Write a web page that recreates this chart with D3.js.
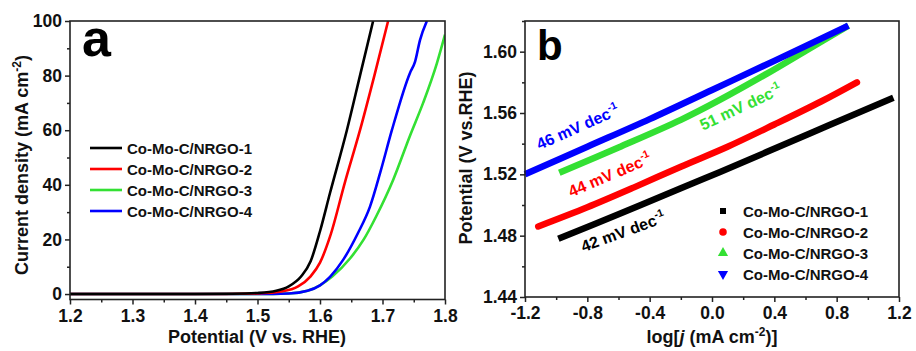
<!DOCTYPE html>
<html>
<head>
<meta charset="utf-8">
<script src="https://cdn.jsdelivr.net/npm/d3@7"></script>
<style>
  body { margin: 0; background: #fff; }
  svg text { font-family: "Liberation Sans", Arial, sans-serif; font-weight: bold; }
</style>
</head>
<body>
<svg id="chart" width="916" height="351"></svg>
<script>
var names = ["Co-Mo-C/NRGO-1", "Co-Mo-C/NRGO-2", "Co-Mo-C/NRGO-3", "Co-Mo-C/NRGO-4"];
var colors = ["#000000", "#ff0000", "#33e033", "#0000ff"];

// panel a: LSV curves [potential V, current density mA cm-2]
var lsv1 = [[1.20,0],[1.40,0],[1.46,0.1],[1.50,0.4],[1.53,1.2],[1.55,2.8],[1.57,6.5],[1.585,12],[1.60,23],[1.616,37],[1.643,60],[1.664,80],[1.685,100]];
var lsv2 = [[1.20,0],[1.45,0],[1.50,0.2],[1.54,1],[1.565,2.8],[1.585,6.5],[1.60,11.5],[1.616,21],[1.64,41],[1.664,60],[1.687,80],[1.709,100]];
var lsv3 = [[1.20,0],[1.50,0],[1.55,0.2],[1.58,1.2],[1.60,3.2],[1.62,6.5],[1.648,13],[1.67,20],[1.69,28.5],[1.717,41.8],[1.744,58],[1.765,70],[1.787,84.5],[1.80,95]];
var lsv4 = [[1.20,0],[1.50,0],[1.55,0.2],[1.58,1.2],[1.60,3.2],[1.616,6.3],[1.637,12.5],[1.66,22],[1.68,32],[1.697,45],[1.715,60],[1.744,81],[1.752,85],[1.76,93],[1.771,100]];

// panel b: Tafel plots [log j, potential V]
var tafel1 = [[-0.986,1.478],[-0.6,1.494],[-0.2,1.511],[0.052,1.5215],[0.35,1.5345],[0.75,1.552],[1.164,1.570]];
var tafel2 = [[-1.115,1.486],[-0.8,1.4985],[-0.5,1.5115],[-0.2,1.525],[0.1,1.538],[0.4,1.5525],[0.7,1.5675],[0.93,1.580]];
var tafel3 = [[-0.98,1.521],[-0.6,1.5375],[-0.2,1.5555],[0.05,1.5685],[0.35,1.5855],[0.6,1.6005],[0.875,1.617]];
var tafel4 = [[-1.2,1.520],[-0.8,1.538],[-0.4,1.556],[0.0,1.575],[0.4,1.594],[0.875,1.617]];

var slopeLabels = ["42 mV dec", "44 mV dec", "51 mV dec", "46 mV dec"];

var xTicksA = [1.2, 1.3, 1.4, 1.5, 1.6, 1.7, 1.8];
var yTicksA = [0, 20, 40, 60, 80, 100];
var xTicksB = [-1.2, -0.8, -0.4, 0.0, 0.4, 0.8, 1.2];
var yTicksB = [1.44, 1.48, 1.52, 1.56, 1.60];

var svg = d3.select("#chart");

function hyphen(f) {
  return function (d) { return f(d).replace("\u2212", "-"); };
}

function frame(g, x, y) {
  g.append("rect")
    .attr("x", x.range()[0]).attr("y", y.range()[1])
    .attr("width", x.range()[1] - x.range()[0])
    .attr("height", y.range()[0] - y.range()[1])
    .attr("fill", "none").attr("stroke", "#222").attr("stroke-width", 1.6);
}

function axes(g, x, y, xt, yt, xMinor, yMinor, xfmt, yfmt) {
  var xa = g.append("g").attr("transform", "translate(0," + y.range()[0] + ")");
  xa.call(d3.axisBottom(x).tickValues(xMinor).tickSize(3).tickFormat(""));
  xa.append("g").call(d3.axisBottom(x).tickValues(xt).tickSize(5).tickPadding(5).tickFormat(xfmt));
  var ya = g.append("g").attr("transform", "translate(" + x.range()[0] + ",0)");
  ya.call(d3.axisLeft(y).tickValues(yMinor).tickSize(3).tickFormat(""));
  ya.append("g").call(d3.axisLeft(y).tickValues(yt).tickSize(5).tickPadding(3).tickFormat(yfmt));
  g.selectAll(".domain").remove();
  g.selectAll(".tick line").attr("stroke", "#222").attr("stroke-width", 1.5);
  g.selectAll(".tick text").attr("fill", "#111").style("font-size", "17.5px");
}

// ---------- panel a ----------
var xa = d3.scaleLinear().domain([1.2, 1.8]).range([70, 445]);
var ya = d3.scaleLinear().domain([-2, 100]).range([299.5, 21]);
var ga = svg.append("g");

axes(ga, xa, ya, xTicksA, yTicksA,
  d3.range(1.25, 1.8, 0.1), d3.range(10, 100, 20),
  d3.format(".1f"), d3.format("d"));

svg.append("clipPath").attr("id", "clipA")
  .append("rect").attr("x", 70).attr("y", 21).attr("width", 375).attr("height", 278.5);

var lineA = d3.line().x(function (d) { return xa(d[0]); }).y(function (d) { return ya(d[1]); })
  .curve(d3.curveMonotoneX);

[lsv3, lsv4, lsv2, lsv1].forEach(function (s, i) {
  var k = [2, 3, 1, 0][i];
  ga.append("path").datum(s)
    .attr("clip-path", "url(#clipA)")
    .attr("d", lineA)
    .attr("fill", "none").attr("stroke", colors[k]).attr("stroke-width", 2.6);
});

frame(ga, xa, ya);

ga.append("text").attr("x", 82).attr("y", 56).style("font-size", "52px").text("a");

var legA = ga.append("g");
names.forEach(function (n, i) {
  var yy = 148 + i * 21;
  legA.append("line").attr("x1", 90).attr("x2", 122).attr("y1", yy).attr("y2", yy)
    .attr("stroke", colors[i]).attr("stroke-width", 2.6);
  legA.append("text").attr("x", 127).attr("y", yy + 5.5).style("font-size", "15px").attr("fill", "#111").text(n);
});

ga.append("text").attr("x", 257).attr("y", 343).attr("text-anchor", "middle")
  .style("font-size", "18px").attr("fill", "#111").text("Potential (V vs. RHE)");

var yta = ga.append("text").attr("transform", "translate(28,165) rotate(-90)")
  .attr("text-anchor", "middle").style("font-size", "18px").attr("fill", "#111");
yta.append("tspan").text("Current density (mA cm");
yta.append("tspan").attr("dy", -7).style("font-size", "12px").text("-2");
yta.append("tspan").attr("dy", 7).text(")");

// ---------- panel b ----------
var xb = d3.scaleLinear().domain([-1.2, 1.2]).range([525, 899]);
var yb = d3.scaleLinear().domain([1.44, 1.62]).range([297, 21]);
var gb = svg.append("g");

axes(gb, xb, yb, xTicksB, yTicksB,
  d3.range(-1.0, 1.2, 0.4), d3.range(1.46, 1.62, 0.04),
  hyphen(d3.format(".1f")), d3.format(".2f"));

var lineB = d3.line().x(function (d) { return xb(d[0]); }).y(function (d) { return yb(d[1]); })
  .curve(d3.curveCatmullRom.alpha(0.5));

[tafel1, tafel2, tafel3, tafel4].forEach(function (s, i) {
  gb.append("path").datum(s)
    .attr("d", lineB)
    .attr("fill", "none").attr("stroke", colors[i]).attr("stroke-width", 6.5)
    .attr("stroke-linecap", i == 1 ? "round" : "butt");
});

frame(gb, xb, yb);

gb.append("text").attr("x", 537).attr("y", 60).style("font-size", "42px").text("b");

var sym = [d3.symbolSquare, d3.symbolCircle, d3.symbolTriangle, d3.symbolTriangle];
names.forEach(function (n, i) {
  var yy = 211 + i * 21;
  gb.append("path").attr("d", d3.symbol().type(sym[i]).size(i == 0 ? 36 : 45)())
    .attr("transform", "translate(723," + yy + ")" + (i == 3 ? " rotate(180)" : ""))
    .attr("fill", colors[i]);
  gb.append("text").attr("x", 743).attr("y", yy + 5.5).style("font-size", "15px").attr("fill", "#111").text(n);
});

// slope annotations: [x, y, angle]
var notePos = [[625, 237, -20], [612, 180, -23], [743, 112, -25], [580, 132, -24]];
notePos.forEach(function (p, i) {
  var t = gb.append("text").attr("transform", "translate(" + p[0] + "," + p[1] + ") rotate(" + p[2] + ")")
    .attr("text-anchor", "middle").style("font-size", "16px").attr("fill", colors[i]);
  t.append("tspan").text(slopeLabels[i]);
  t.append("tspan").attr("dy", -7).style("font-size", "10.5px").text("-1");
});

var xtb = gb.append("text").attr("x", 712).attr("y", 343).attr("text-anchor", "middle")
  .style("font-size", "18px").attr("fill", "#111");
xtb.append("tspan").text("log[");
xtb.append("tspan").style("font-style", "italic").text("j");
xtb.append("tspan").text(" (mA cm");
xtb.append("tspan").attr("dy", -7).style("font-size", "12px").text("-2");
xtb.append("tspan").attr("dy", 7).text(")]");

gb.append("text").attr("transform", "translate(472,158) rotate(-90)")
  .attr("text-anchor", "middle").style("font-size", "18px").attr("fill", "#111")
  .text("Potential (V vs.RHE)");
</script>
</body>
</html>
